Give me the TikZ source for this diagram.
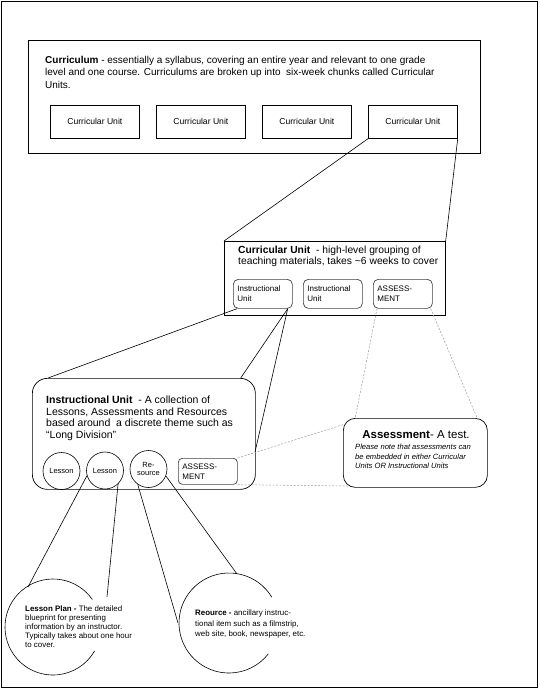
\documentclass[tikz,border=0pt]{standalone}
\usepackage{fontspec}
\setmainfont{Liberation Sans}
\newcommand\myfs[2]{\fontsize{#1}{#2}\selectfont}
\begin{document}
\begin{tikzpicture}[x=1pt,y=-1pt,
  ln/.style={line width=0.6pt},
  sqbox/.style={draw, line width=0.7pt, anchor=north west, inner sep=0pt},
  rbox/.style={draw=black!75, line width=0.7pt, rounded corners=5pt, anchor=north west, inner sep=0pt, align=left},
  txt/.style={anchor=north west, inner sep=0pt, align=left},
  dotln/.style={draw=black!40, line width=0.5pt, dash pattern=on 2pt off 1.5pt},
  smallc/.style={draw, circle, minimum size=37pt, inner sep=0pt, line width=0.6pt, font=\myfs{7.5}{8.5}, align=center},
]
\useasboundingbox (0,0) rectangle (539,689);
\node[sqbox, minimum width=536pt, minimum height=686pt] (frame) at (1,1) {};

% Curriculum
\node[sqbox, minimum width=452pt, minimum height=113pt] (curr) at (28,40) {};
\node[txt, font=\myfs{10}{12.5}] (currtxt) at (45,56) {\textbf{Curriculum} - essentially a syllabus, covering an entire year and relevant to one grade\\level and one course. Curriculums are broken up into\ \ six-week chunks called Curricular\\Units.};
\foreach \i/\x in {1/50,2/156,3/262,4/368}
  \node[sqbox, minimum width=89pt, minimum height=33pt, font=\myfs{8.6}{10}] (cu\i) at (\x,105) {Curricular Unit};

% Curricular unit
\node[sqbox, minimum width=221pt, minimum height=74pt] (cubox) at (224,241) {};
\node[txt, font=\myfs{10.3}{11}] (cutxt) at (238,246) {\textbf{Curricular Unit}\ \ - high-level grouping of\\teaching materials, takes \textasciitilde6 weeks to cover};
\node[rbox, minimum width=59pt, minimum height=29pt, text width=51pt, font=\myfs{8}{10}] (iu1) at (233,279) {Instructional\\Unit};
\node[rbox, minimum width=59pt, minimum height=29pt, text width=51pt, font=\myfs{8}{10}] (iu2) at (303,279) {Instructional\\Unit};
\node[rbox, minimum width=59pt, minimum height=29pt, text width=51pt, font=\myfs{8}{10}] (assCU) at (373,279) {ASSESS-\\MENT};
\draw[ln] (cu4.south west) -- (cubox.north west);
\draw[ln] (cu4.south east) -- (cubox.north east);

% Instructional unit
\node[sqbox, rounded corners=15pt, minimum width=223pt, minimum height=111pt] (iubig) at (32,378) {};
\node[txt, font=\myfs{10.5}{11.5}] (iutxt) at (46,396) {\textbf{Instructional Unit}\ \ - A collection of\\Lessons, Assessments and Resources\\based around\ \ a discrete theme such as\\“Long Division”};
\node[smallc] (les1) at (61.5,471) {Lesson};
\node[smallc] (les2) at (105,470.5) {Lesson};
\node[smallc] (res) at (148.5,469) {Re-\\source};
\node[rbox, rounded corners=4pt, minimum width=59pt, minimum height=26pt, text width=51pt, font=\myfs{8}{10}] (assIU) at (178,458) {ASSESS-\\MENT};
\coordinate (iuR) at (255,452);
\draw[ln] ([xshift=4pt]iu1.south west) -- ([xshift=16pt]iubig.north west);
\draw[ln] ([xshift=-5pt]iu1.south east) -- ([xshift=-15pt]iubig.north east);
\draw[ln] ([xshift=-5pt]iu1.south east) -- (iuR);

% Assessment
\node[sqbox, rounded corners=12pt, minimum width=144pt, minimum height=69pt] (assbig) at (343,418) {};
\node[font=\myfs{11.5}{13}, inner sep=0pt] (asshead) at (416,435) {\textbf{Assessment}- A test.};
\node[txt, font=\myfs{7.6}{9.3}\itshape] (assnote) at (355,444) {Please note that assessments can\\be embedded in either Curricular\\Units OR Instructional Units};
\coordinate (d1) at (355,419);
\coordinate (d2) at (478,420);
\coordinate (d3) at (345,424);
\coordinate (d4) at (348,486);
\draw[dotln] ([xshift=4pt]assCU.south west) -- (d1);
\draw[dotln] ([xshift=-2pt]assCU.south east) -- (d2);
\draw[dotln] (assIU.north east) -- (d3);
\draw[dotln] (assIU.south east) -- (d4);

% Lesson plan
\coordinate (lpc) at (53,627);
\draw[ln] (lpc) ++(-35:48) arc[start angle=-35, end angle=-330, radius=48];
\node[txt, font=\myfs{7.9}{9}] (lptxt) at (25,606) {\textbf{Lesson Plan -} The detailed\\blueprint for presenting\\information by an instructor.\\Typically takes about one hour\\to cover.};
\coordinate (lpA) at (28,587);
\coordinate (lpB) at (107,597);
\draw[ln] (les2.196) -- (lpA);
\draw[ln] (les2.314) -- (lpB);

% Resource
\coordinate (rpc) at (229,623);
\draw[ln] (rpc) ++(-31:50) arc[start angle=-31, end angle=-322, radius=50];
\node[txt, font=\myfs{7.9}{10.5}] (rptxt) at (195,610) {\textbf{Reource -} ancillary instruc-\\tional item such as a filmstrip,\\web site, book, newspaper, etc.};
\coordinate (rpA) at (178,623);
\coordinate (rpB) at (237,574);
\draw[ln] (res.235) -- (rpA);
\draw[ln] (res.338) -- (rpB);
\end{tikzpicture}
\end{document}
